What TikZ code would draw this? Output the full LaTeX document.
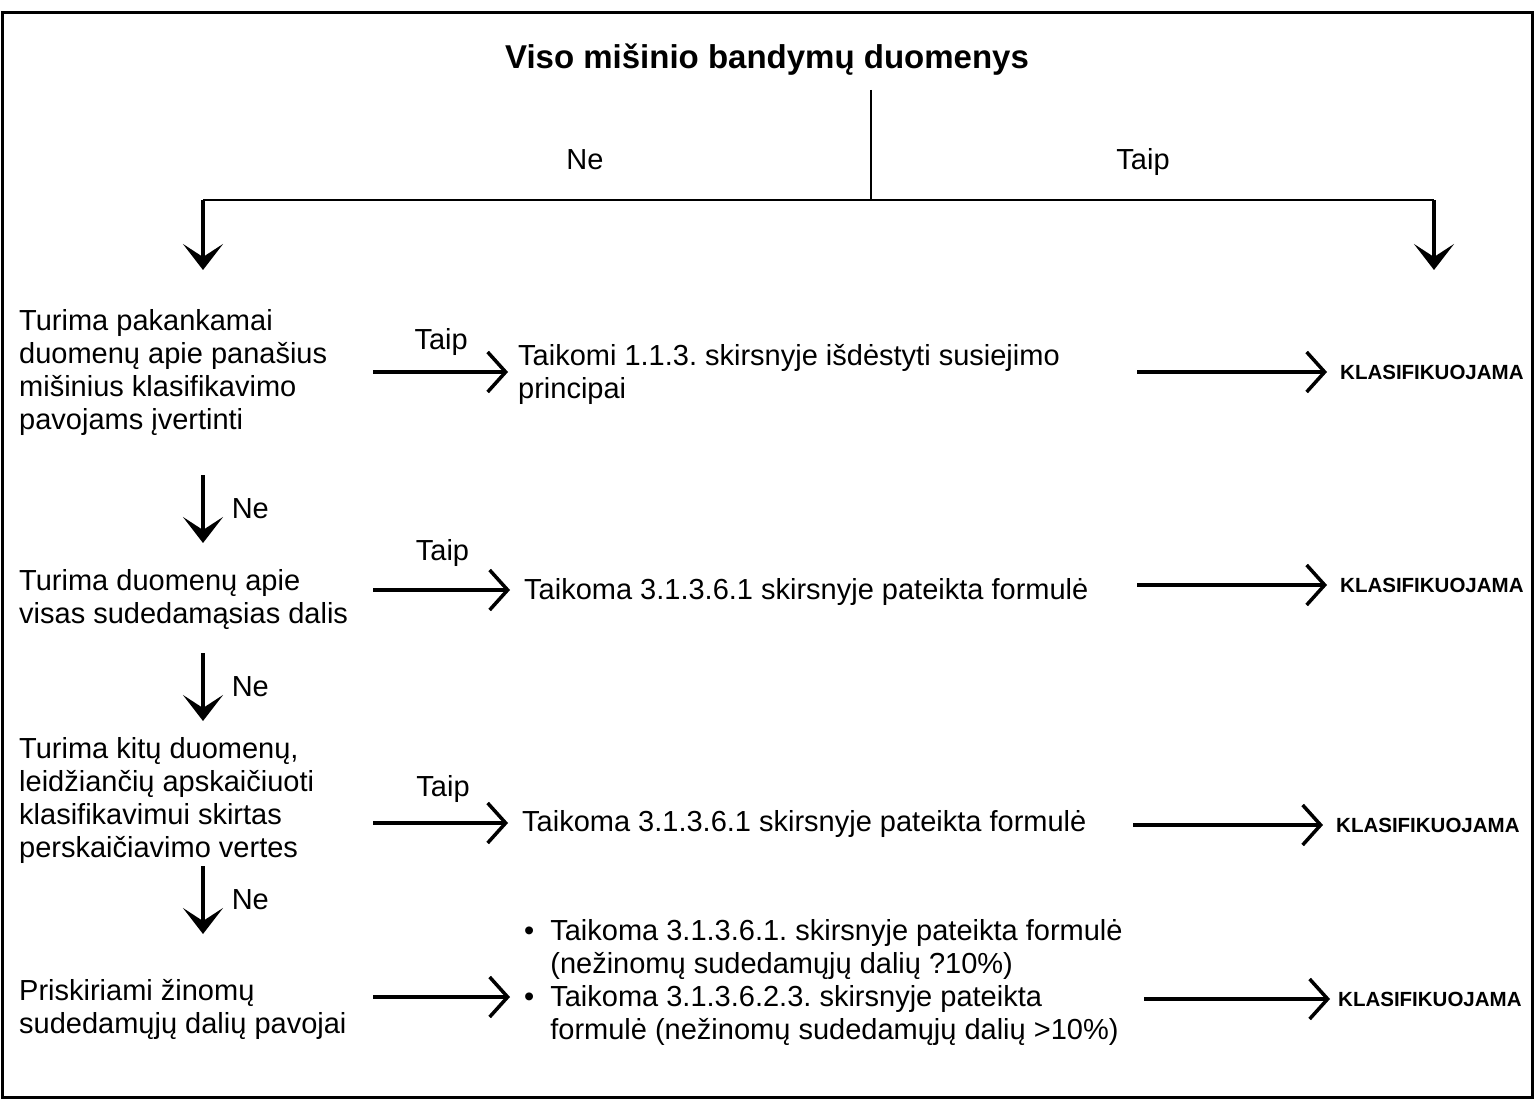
\documentclass[tikz,border=0pt]{standalone}
\usepackage{fontspec}
\setmainfont{Liberation Sans}
\usetikzlibrary{positioning,arrows.meta}
\frenchspacing

\begin{document}
\begin{tikzpicture}[
x=1pt,y=-1pt,
txt/.style={inner sep=0pt,align=left,anchor=west,font=\fontsize{29}{33}\selectfont},
lbl/.style={inner sep=0pt,font=\fontsize{29}{33}\selectfont},
res/.style={inner sep=0pt,anchor=west,font=\fontsize{20.5}{24}\selectfont\bfseries},
downarr/.style={-{Stealth[length=26pt,width=40pt,inset=13pt]},line width=3.5pt},
rightarr/.style={-{Straight Barb[length=18pt,width=40pt,line width=3.5pt]},line width=3.5pt}
]
\useasboundingbox (0,0) rectangle (1535,1110);
\draw[line width=3pt] (2,13) rectangle (1532,1097);

% title and first split
\node[inner sep=0pt,font=\fontsize{33}{38}\selectfont\bfseries] (title) at (767,60) {Viso mišinio bandymų duomenys};
\coordinate (top) at (871,90);
\coordinate (fork) at (871,200);
\coordinate (forkL) at (203,200);
\coordinate (forkR) at (1434,200);
\coordinate (endL) at (203,270);
\coordinate (endR) at (1434,270);
\draw[line width=2pt] (top)--(fork);
\draw[line width=2.5pt] (forkL)--(forkR);
\draw[downarr] (forkL)--(endL);
\draw[downarr] (forkR)--(endR);
\node[lbl,anchor=base] (ne0) at (585,170) {Ne};
\node[lbl,anchor=base] (taip0) at (1143,170) {Taip};

% questions, left column
\node[txt] (q1) at (19,373) {Turima pakankamai\\duomenų apie panašius\\mišinius klasifikavimo\\pavojams įvertinti};
\node[txt] (q2) at (19,600) {Turima duomenų apie\\visas sudedamąsias dalis};
\node[txt] (q3) at (19,800) {Turima kitų duomenų,\\leidžiančių apskaičiuoti\\klasifikavimui skirtas\\perskaičiavimo vertes};
\node[txt] (q4) at (19,1009) {Priskiriami žinomų\\sudedamųjų dalių pavojai};

% methods, middle column
\node[txt] (m1) at (518,374) {Taikomi 1.1.3. skirsnyje išdėstyti susiejimo\\principai};
\node[txt] (m2) at (524,592) {Taikoma 3.1.3.6.1 skirsnyje pateikta formulė};
\node[txt] (m3) at (522,824) {Taikoma 3.1.3.6.1 skirsnyje pateikta formulė};
\node[txt] (m4) at (524,983) {\begin{tabular}{@{}l@{\hspace{16pt}}l@{}}
•&Taikoma 3.1.3.6.1. skirsnyje pateikta formulė\\
&(nežinomų sudedamųjų dalių ?10\%)\\
•&Taikoma 3.1.3.6.2.3. skirsnyje pateikta\\
&formulė (nežinomų sudedamųjų dalių >10\%)
\end{tabular}};

% results
\node[res] (k1) at (1340,372) {KLASIFIKUOJAMA};
\node[res] (k2) at (1340,585) {KLASIFIKUOJAMA};
\node[res] (k3) at (1336,825) {KLASIFIKUOJAMA};
\node[res] (k4) at (1338,999) {KLASIFIKUOJAMA};

% arrow ends
\coordinate (s1) at (373,372);
\coordinate (s2) at (373,590);
\coordinate (s3) at (373,823);
\coordinate (s4) at (373,997);
\coordinate (t1) at (1137,372);
\coordinate (t2) at (1137,585);
\coordinate (t3) at (1133,825);
\coordinate (t4) at (1144,999);
\coordinate (d1) at (203,475); \coordinate (e1) at (203,543);
\coordinate (d2) at (203,653); \coordinate (e2) at (203,721);
\coordinate (d3) at (203,866); \coordinate (e3) at (203,934);

\draw[rightarr,shorten >=10pt] (s1)--node[lbl,above=15pt,pos=0.47]{Taip}(s1 -| m1.west);
\draw[rightarr,shorten >=14pt] (s2)--node[lbl,above=22pt,pos=0.46]{Taip}(s2 -| m2.west);
\draw[rightarr,shorten >=14pt] (s3)--node[lbl,above=19pt,pos=0.47]{Taip}(s3 -| m3.west);
\draw[rightarr,shorten >=14pt] (s4)--(s4 -| m4.west);
\draw[rightarr,shorten >=13pt] (t1)--(t1 -| k1.west);
\draw[rightarr,shorten >=13pt] (t2)--(t2 -| k2.west);
\draw[rightarr,shorten >=13pt] (t3)--(t3 -| k3.west);
\draw[rightarr,shorten >=8pt] (t4)--(t4 -| k4.west);

\draw[downarr] (d1)--node[lbl,right=27pt]{Ne}(e1);
\draw[downarr] (d2)--node[lbl,right=27pt]{Ne}(e2);
\draw[downarr] (d3)--node[lbl,right=27pt]{Ne}(e3);
\end{tikzpicture}
\end{document}
